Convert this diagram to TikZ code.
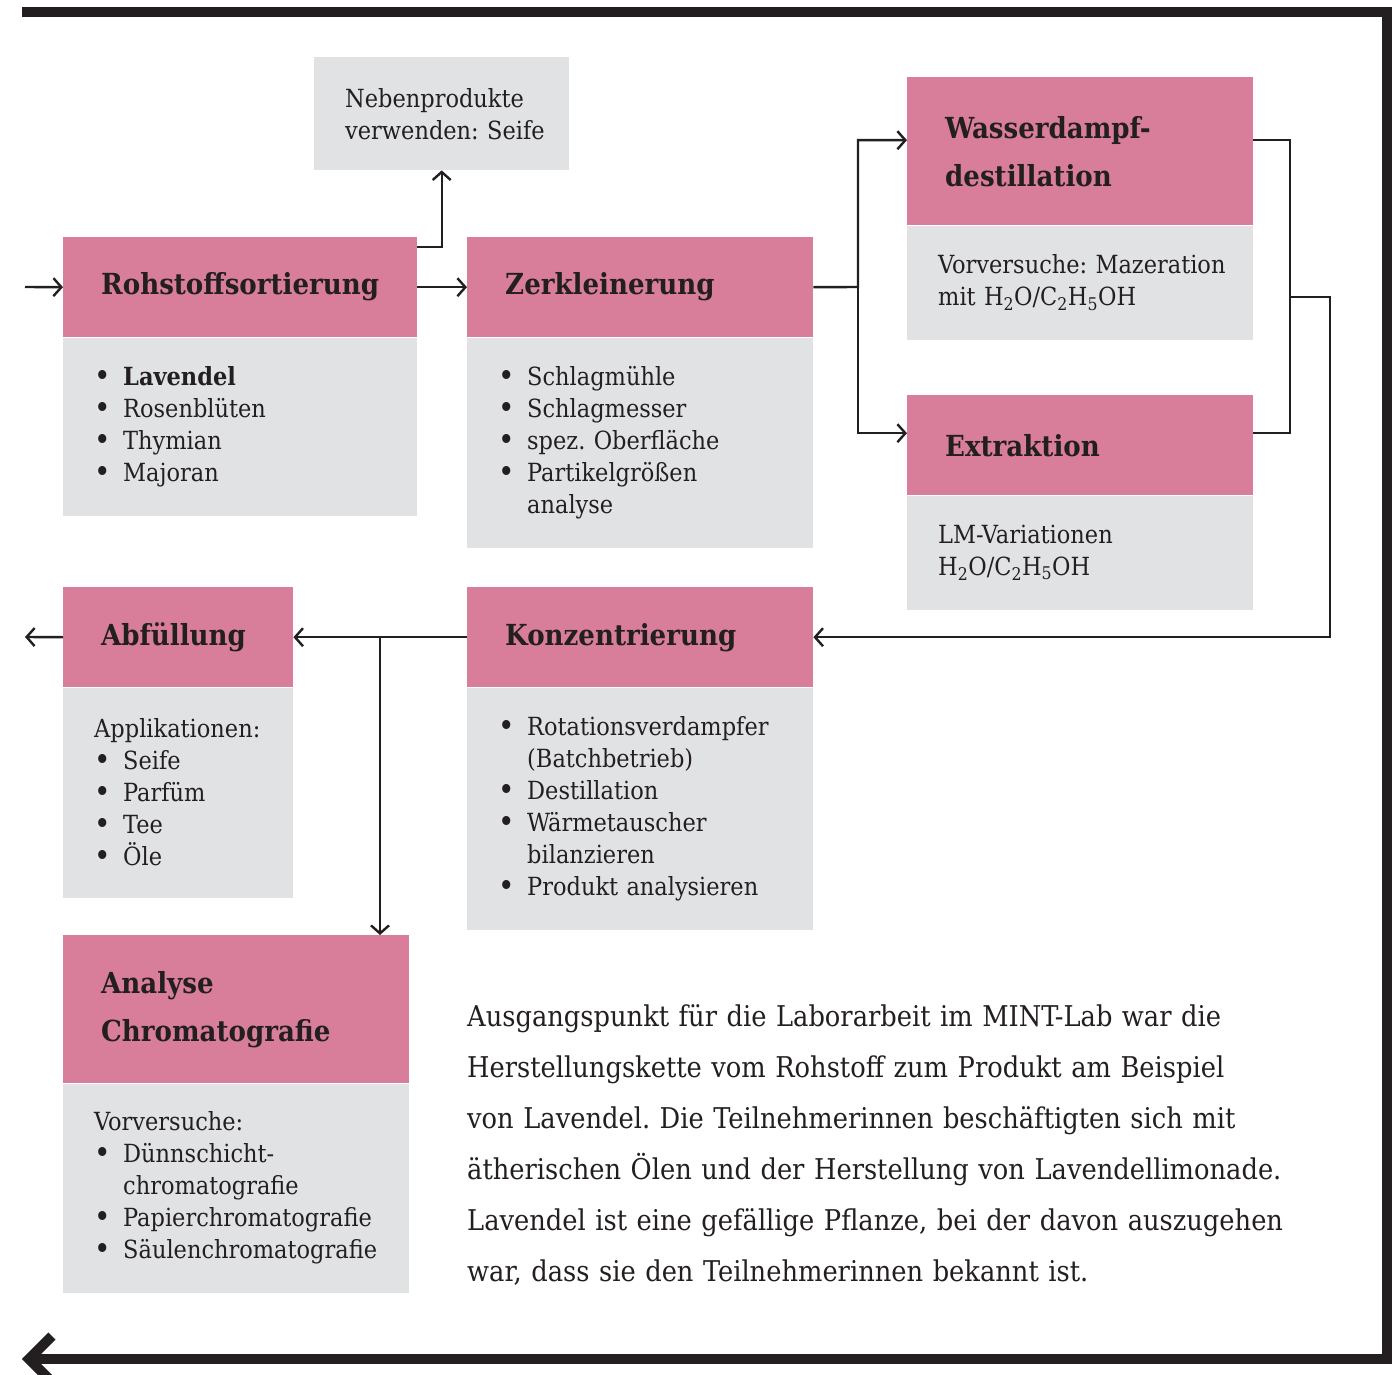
\documentclass[tikz,border=0pt]{standalone}
\usepackage{fontspec}
\setmainfont{DejaVu Serif Condensed}
\usepackage{tikz}
\usetikzlibrary{arrows.meta}

\definecolor{rosa}{HTML}{D87E9B}
\definecolor{grau}{HTML}{E1E2E4}
\definecolor{tinte}{HTML}{231F20}

\newcommand{\pkt}[1]{\makebox[29pt][l]{\raisebox{-1pt}{\fontsize{31}{32}\selectfont\textbullet}}#1}
\newcommand{\weiter}[1]{\hspace*{29pt}#1}
\newcommand{\formel}{H\textsubscript{2}O/C\textsubscript{2}H\textsubscript{5}OH}

\begin{document}
\frenchspacing
\begin{tikzpicture}[x=1pt,y=-1pt,
		kopf/.style={rectangle,fill=rosa,text=tinte,anchor=north west,inner xsep=38pt,inner ysep=0pt,
			align=left,font=\fontsize{29}{48}\selectfont\bfseries},
		rumpf/.style={rectangle,fill=grau,text=tinte,anchor=north west,inner xsep=31pt,inner ysep=0pt,
			align=left,font=\fontsize{25}{32}\selectfont}]
		\useasboundingbox (0,0) rectangle (1392,1375);

		% rahmen
		\draw[tinte,line width=10pt] (22,12) -- (1387,12) -- (1387,1359) -- (32,1359);
		\draw[tinte,line width=10pt] (52,1336) -- (29,1359) -- (52,1382);

		\begin{scope}
		    \node[rumpf,text width=193pt,minimum height=113pt] (neben) at (314,57)
		        {\mbox{Nebenprodukte}\\\mbox{verwenden: Seife}};
		    \node[kopf,text width=278pt,minimum height=100pt] (rohstoff) at (63,237) {Rohstoffsortierung};
		    \node[rumpf,text width=292pt,minimum height=178pt] (rohstoff-liste) at (rohstoff.south west)
		        {\pkt{\textbf{Lavendel}}\\\pkt{Rosenblüten}\\\pkt{Thymian}\\\pkt{Majoran}};
		    \node[kopf,text width=270pt,minimum height=100pt] (zerkl) at (467,237) {Zerkleinerung};
		    \node[rumpf,text width=284pt,minimum height=210pt] (zerkl-liste) at (zerkl.south west)
		        {\pkt{Schlagmühle}\\\pkt{Schlagmesser}\\\pkt{spez. Oberfläche}\\\pkt{Partikelgrößen}\\\weiter{analyse}};
		    \node[kopf,text width=270pt,minimum height=148pt] (dampf) at (907,77) {Wasserdampf-\\destillation};
		    \node[rumpf,text width=284pt,minimum height=114pt] (dampf-text) at (dampf.south west)
		        {\mbox{Vorversuche: Mazeration}\\\mbox{mit \formel}};
		    \node[kopf,text width=270pt,minimum height=100pt] (extrakt) at (907,395) {Extraktion};
		    \node[rumpf,text width=284pt,minimum height=114pt] (extrakt-text) at (extrakt.south west)
		        {LM-Variationen\\\formel};
		    \node[kopf,text width=154pt,minimum height=100pt] (abfuell) at (63,587) {Abfüllung};
		    \node[rumpf,text width=168pt,minimum height=210pt] (abfuell-liste) at (abfuell.south west)
		        {Applikationen:\\\pkt{Seife}\\\pkt{Parfüm}\\\pkt{Tee}\\\pkt{Öle}};
		    \node[kopf,text width=270pt,minimum height=100pt] (konz) at (467,587) {Konzentrierung};
		    \node[rumpf,text width=284pt,minimum height=242pt] (konz-liste) at (konz.south west)
		        {\pkt{Rotationsverdampfer}\\\weiter{(Batchbetrieb)}\\\pkt{Destillation}\\\pkt{Wärmetauscher}\\\weiter{bilanzieren}\\\pkt{Produkt analysieren}};
		    \node[kopf,text width=270pt,minimum height=148pt] (analyse) at (63,935) {Analyse\\Chromatografie};
		    \node[rumpf,text width=284pt,minimum height=209pt] (analyse-liste) at (analyse.south west)
		        {Vorversuche:\\\pkt{Dünnschicht-}\\\weiter{chromatografie}\\\pkt{Papierchromatografie}\\\pkt{Säulenchromatografie}};
		    \node[anchor=north west,inner sep=0pt,text=tinte,align=left,text width=880pt,
		          font=\fontsize{28.6}{51}\selectfont] (absatz) at (467,1004)
		        {Ausgangspunkt für die Laborarbeit im MINT-Lab war die\\
		         Herstellungskette vom Rohstoff zum Produkt am Beispiel\\
		         von Lavendel. Die Teilnehmerinnen beschäftigten sich mit\\
		         ätherischen Ölen und der Herstellung von Lavendellimonade.\\
		         Lavendel ist eine gefällige Pflanze, bei der davon auszugehen\\
		         war, dass sie den Teilnehmerinnen bekannt ist.};
		\end{scope}

		\coordinate (eingang) at (25,287);
		\coordinate (gabel) at (858,287);
		\coordinate (sammel) at (1290,297);
		\coordinate (abzweig) at (380,637);
		\coordinate (ausgang) at (25,637);

		\begin{scope}[>={Straight Barb[length=8pt,width=18pt]},
		              every path/.style={draw=tinte,line width=2.4pt}]
		    \draw[->] (eingang) -- (rohstoff.west);
		    \draw[->] ([yshift=-10pt]rohstoff.north east) -| (neben.south);
		    \draw[->] (rohstoff.east) -- (zerkl.west);
		    \draw[->] (zerkl.east) -- (gabel) |- ([yshift=11pt]dampf.west);
		    \draw[->] (gabel) |- ([yshift=12pt]extrakt.west);
		    \draw ([yshift=11pt]dampf.east) -| (sammel);
		    \draw ([yshift=12pt]extrakt.east) -| (sammel);
		    \draw[->] (sammel) -- ++(40,0) |- (konz.east);
		    \draw[->] (konz.west) -- (abfuell.east);
		    \draw[->] (abzweig) -- (abzweig |- analyse.north);
		    \draw[->] (abfuell.west) -- (ausgang);
		\end{scope}
\end{tikzpicture}
\end{document}
